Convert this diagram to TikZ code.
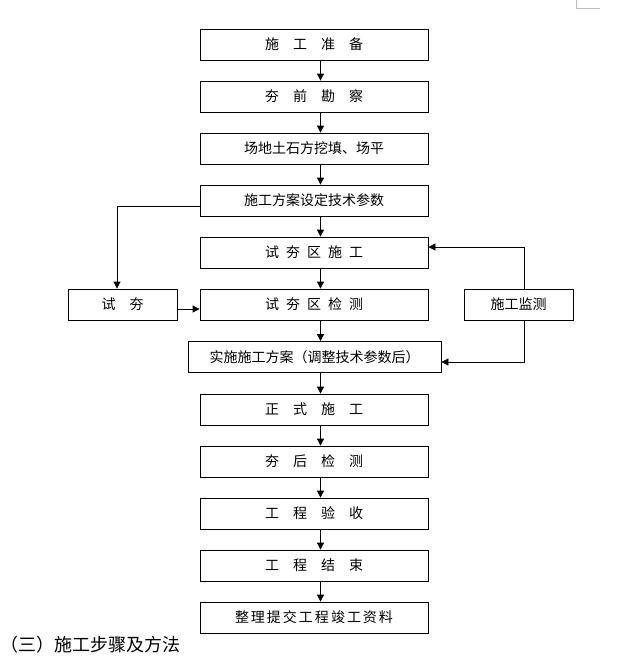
\documentclass[tikz,border=0pt]{standalone}
\usepackage{fontspec}
\newfontfamily\cjk{Noto Sans CJK SC}
\usetikzlibrary{arrows.meta}
\begin{document}
\begin{tikzpicture}[x=1pt,y=-1pt,
  box/.style={draw, line width=0.8pt, minimum width=228pt, minimum height=31pt, inner sep=0pt,
    font=\cjk\fontsize{14pt}{14pt}\selectfont},
  sidebox/.style={box, minimum width=109pt},
  arr/.style={line width=0.8pt, -{Triangle[length=7pt,width=7pt]}},
  ln/.style={line width=0.8pt}]
\useasboundingbox (0,0) rectangle (640,664);
% page corner mark
\draw[gray!50, line width=0.8pt] (576,0) -- (576,8) -- (600,8);
\coordinate (ax) at (320.5,0);
\node[box] (b1) at (314,44.5) {施\hspace{1em}工\hspace{1em}准\hspace{1em}备};
\node[box] (b2) at (314,96.5) {夯\hspace{1em}前\hspace{1em}勘\hspace{1em}察};
\node[box] (b3) at (314,148.5) {场地土石方挖填、场平};
\node[box] (b4) at (314,200.5) {施工方案设定技术参数};
\node[box] (b5) at (314,252.5) {试\hspace{0.5em}夯\hspace{0.5em}区\hspace{0.5em}施\hspace{0.5em}工};
\node[box] (b6) at (314,304.5) {试\hspace{0.5em}夯\hspace{0.5em}区\hspace{0.5em}检\hspace{0.5em}测};
\node[box, minimum width=253pt] (b7) at (314.5,357) {实施施工方案（调整技术参数后）};
\node[box] (b8) at (314,409.5) {正\hspace{1em}式\hspace{1em}施\hspace{1em}工};
\node[box] (b9) at (314,461.5) {夯\hspace{1em}后\hspace{1em}检\hspace{1em}测};
\node[box] (b10) at (314,513.5) {工\hspace{1em}程\hspace{1em}验\hspace{1em}收};
\node[box] (b11) at (314,565.5) {工\hspace{1em}程\hspace{1em}结\hspace{1em}束};
\node[box] (b12) at (314,617.5) {整\hspace{2pt}理\hspace{2pt}提\hspace{2pt}交\hspace{2pt}工\hspace{2pt}程\hspace{2pt}竣\hspace{2pt}工\hspace{2pt}资\hspace{2pt}料};
\node[sidebox] (st) at (122.5,304.5) {试\hspace{1em}夯};
\node[sidebox] (jc) at (518.5,304.5) {施工监测};
\node[anchor=west, inner sep=0pt, font=\cjk\fontsize{18pt}{18pt}\selectfont] (cap) at (0,645) {（三）施工步骤及方法};
% main chain
\foreach \a/\b in {b1/b2,b2/b3,b3/b4,b4/b5,b5/b6,b6/b7,b7/b8,b8/b9,b9/b10,b10/b11,b11/b12}
  \draw[arr] (\a.south -| ax) -- (\b.north -| ax);
% side connectors
\draw[arr] ([yshift=-5.5pt]b4.west) -| ([xshift=-5.5pt]st.north);
\draw[arr] ([yshift=-4.5pt]st.east) -- ([yshift=-4.5pt]b6.west);
\draw[arr] ([xshift=5.5pt]jc.north) |- ([yshift=5.5pt]b5.east);
\draw[arr] ([xshift=5.5pt]jc.south) |- ([yshift=-5pt]b7.east);
\end{tikzpicture}
\end{document}
